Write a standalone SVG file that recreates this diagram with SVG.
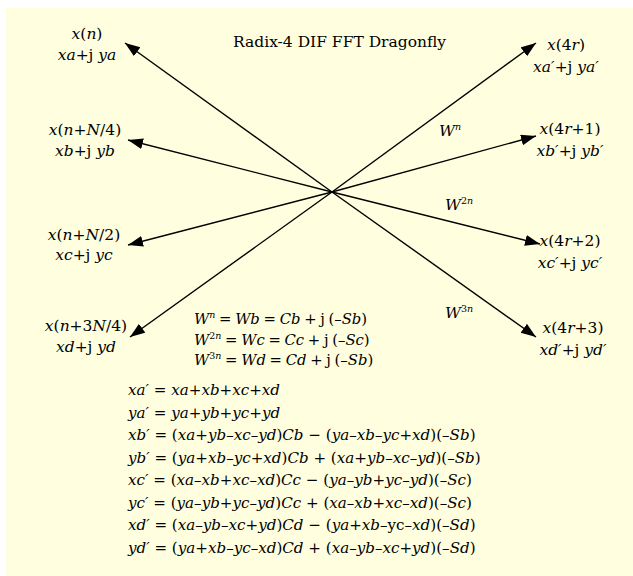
<svg xmlns="http://www.w3.org/2000/svg" width="633" height="576" viewBox="0 0 633 576">
<style>
text{font-family:'DejaVu Serif',serif;font-size:15.5px;fill:#000}
.i{font-style:italic}
.c{text-anchor:middle}
.sup{font-size:9.5px}
.eq text{font-size:15.1px}
.wd text{font-size:14.8px;word-spacing:-1px}
.ln{stroke:#000;stroke-width:1.4;fill:none}
</style>
<defs>
<marker id="ah" markerUnits="userSpaceOnUse" markerWidth="16" markerHeight="12" refX="15" refY="5.5" orient="auto">
<path d="M0,0 L15,5.5 L0,11 Z" fill="#000"/>
</marker>
</defs>
<rect x="6" y="8" width="627" height="568" fill="#FFFFE0"/>
<g id="connectors">
<line class="ln" x1="332" y1="192" x2="125" y2="43" marker-end="url(#ah)"/>
<line class="ln" x1="332" y1="192" x2="128" y2="140" marker-end="url(#ah)"/>
<line class="ln" x1="332" y1="192" x2="128" y2="245" marker-end="url(#ah)"/>
<line class="ln" x1="332" y1="192" x2="130" y2="337" marker-end="url(#ah)"/>
<line class="ln" x1="332" y1="192" x2="536" y2="43" marker-end="url(#ah)"/>
<line class="ln" x1="332" y1="192" x2="536" y2="136" marker-end="url(#ah)"/>
<line class="ln" x1="332" y1="192" x2="540" y2="244" marker-end="url(#ah)"/>
<line class="ln" x1="332" y1="192" x2="536" y2="337" marker-end="url(#ah)"/>
</g>
<g id="title"><text x="233" y="47">Radix-4 DIF FFT Dragonfly</text></g>
<g id="in0">
<text class="c" x="87" y="39"><tspan class="i">x</tspan>(<tspan class="i">n</tspan>)</text>
<text class="c" x="87" y="60"><tspan class="i">xa</tspan>+j <tspan class="i">ya</tspan></text>
</g>
<g id="in1">
<text class="c" x="85" y="135"><tspan class="i">x</tspan>(<tspan class="i">n</tspan>+<tspan class="i">N</tspan>/4)</text>
<text class="c" x="85" y="156"><tspan class="i">xb</tspan>+j <tspan class="i">yb</tspan></text>
</g>
<g id="in2">
<text class="c" x="84" y="240"><tspan class="i">x</tspan>(<tspan class="i">n</tspan>+<tspan class="i">N</tspan>/2)</text>
<text class="c" x="84" y="260"><tspan class="i">xc</tspan>+j <tspan class="i">yc</tspan></text>
</g>
<g id="in3">
<text class="c" x="86" y="331"><tspan class="i">x</tspan>(<tspan class="i">n</tspan>+3<tspan class="i">N</tspan>/4)</text>
<text class="c" x="86" y="352"><tspan class="i">xd</tspan>+j <tspan class="i">yd</tspan></text>
</g>
<g id="out0">
<text class="c" x="566" y="50"><tspan class="i">x</tspan>(4<tspan class="i">r</tspan>)</text>
<text class="c" x="566" y="72"><tspan class="i">xa′</tspan>+j <tspan class="i">ya′</tspan></text>
</g>
<g id="out1">
<text class="c" x="570" y="134"><tspan class="i">x</tspan>(4<tspan class="i">r</tspan>+1)</text>
<text class="c" x="570" y="156"><tspan class="i">xb′</tspan>+j <tspan class="i">yb′</tspan></text>
</g>
<g id="out2">
<text class="c" x="570" y="246"><tspan class="i">x</tspan>(4<tspan class="i">r</tspan>+2)</text>
<text class="c" x="570" y="268"><tspan class="i">xc′</tspan>+j <tspan class="i">yc′</tspan></text>
</g>
<g id="out3">
<text class="c" x="573" y="333"><tspan class="i">x</tspan>(4<tspan class="i">r</tspan>+3)</text>
<text class="c" x="573" y="355"><tspan class="i">xd′</tspan>+j <tspan class="i">yd′</tspan></text>
</g>
<g id="twiddles">
<text x="439" y="136"><tspan class="i">W</tspan><tspan class="i sup" dy="-6">n</tspan></text>
<text x="445" y="210"><tspan class="i">W</tspan><tspan class="sup" dy="-6">2</tspan><tspan class="i sup">n</tspan></text>
<text x="445" y="318"><tspan class="i">W</tspan><tspan class="sup" dy="-6">3</tspan><tspan class="i sup">n</tspan></text>
</g>
<g id="twiddle-defs" class="wd">
<text x="194" y="324"><tspan class="i">W</tspan><tspan class="i sup" dy="-6">n</tspan><tspan dy="6"> = </tspan><tspan class="i">Wb</tspan> = <tspan class="i">Cb</tspan> + j (–<tspan class="i">Sb</tspan>)</text>
<text x="194" y="344.5"><tspan class="i">W</tspan><tspan class="sup" dy="-6">2</tspan><tspan class="i sup">n</tspan><tspan dy="6"> = </tspan><tspan class="i">Wc</tspan> = <tspan class="i">Cc</tspan> + j (–<tspan class="i">Sc</tspan>)</text>
<text x="194" y="365"><tspan class="i">W</tspan><tspan class="sup" dy="-6">3</tspan><tspan class="i sup">n</tspan><tspan dy="6"> = </tspan><tspan class="i">Wd</tspan> = <tspan class="i">Cd</tspan> + j (–<tspan class="i">Sb</tspan>)</text>
</g>
<g id="equations" class="eq">
<text x="128" y="395"><tspan class="i">xa′</tspan> = <tspan class="i">xa</tspan>+<tspan class="i">xb</tspan>+<tspan class="i">xc</tspan>+<tspan class="i">xd</tspan></text>
<text x="128" y="417.5"><tspan class="i">ya′</tspan> = <tspan class="i">ya</tspan>+<tspan class="i">yb</tspan>+<tspan class="i">yc</tspan>+<tspan class="i">yd</tspan></text>
<text x="128" y="440"><tspan class="i">xb′</tspan> = (<tspan class="i">xa</tspan>+<tspan class="i">yb</tspan>–<tspan class="i">xc</tspan>–<tspan class="i">yd</tspan>)<tspan class="i">Cb</tspan> − (<tspan class="i">ya</tspan>–<tspan class="i">xb</tspan>–<tspan class="i">yc</tspan>+<tspan class="i">xd</tspan>)(–<tspan class="i">Sb</tspan>)</text>
<text x="128" y="462.5"><tspan class="i">yb′</tspan> = (<tspan class="i">ya</tspan>+<tspan class="i">xb</tspan>–<tspan class="i">yc</tspan>+<tspan class="i">xd</tspan>)<tspan class="i">Cb</tspan> + (<tspan class="i">xa</tspan>+<tspan class="i">yb</tspan>–<tspan class="i">xc</tspan>–<tspan class="i">yd</tspan>)(–<tspan class="i">Sb</tspan>)</text>
<text x="128" y="485"><tspan class="i">xc′</tspan> = (<tspan class="i">xa</tspan>–<tspan class="i">xb</tspan>+<tspan class="i">xc</tspan>–<tspan class="i">xd</tspan>)<tspan class="i">Cc</tspan> − (<tspan class="i">ya</tspan>–<tspan class="i">yb</tspan>+<tspan class="i">yc</tspan>–<tspan class="i">yd</tspan>)(–<tspan class="i">Sc</tspan>)</text>
<text x="128" y="507.5"><tspan class="i">yc′</tspan> = (<tspan class="i">ya</tspan>–<tspan class="i">yb</tspan>+<tspan class="i">yc</tspan>–<tspan class="i">yd</tspan>)<tspan class="i">Cc</tspan> + (<tspan class="i">xa</tspan>–<tspan class="i">xb</tspan>+<tspan class="i">xc</tspan>–<tspan class="i">xd</tspan>)(–<tspan class="i">Sc</tspan>)</text>
<text x="128" y="530"><tspan class="i">xd′</tspan> = (<tspan class="i">xa</tspan>–<tspan class="i">yb</tspan>–<tspan class="i">xc</tspan>+<tspan class="i">yd</tspan>)<tspan class="i">Cd</tspan> − (<tspan class="i">ya</tspan>+<tspan class="i">xb</tspan>–yc–<tspan class="i">xd</tspan>)(–<tspan class="i">Sd</tspan>)</text>
<text x="128" y="552.5"><tspan class="i">yd′</tspan> = (<tspan class="i">ya</tspan>+<tspan class="i">xb</tspan>–<tspan class="i">yc</tspan>–<tspan class="i">xd</tspan>)<tspan class="i">Cd</tspan> + (<tspan class="i">xa</tspan>–<tspan class="i">yb</tspan>–<tspan class="i">xc</tspan>+<tspan class="i">yd</tspan>)(–<tspan class="i">Sd</tspan>)</text>
</g>
</svg>
